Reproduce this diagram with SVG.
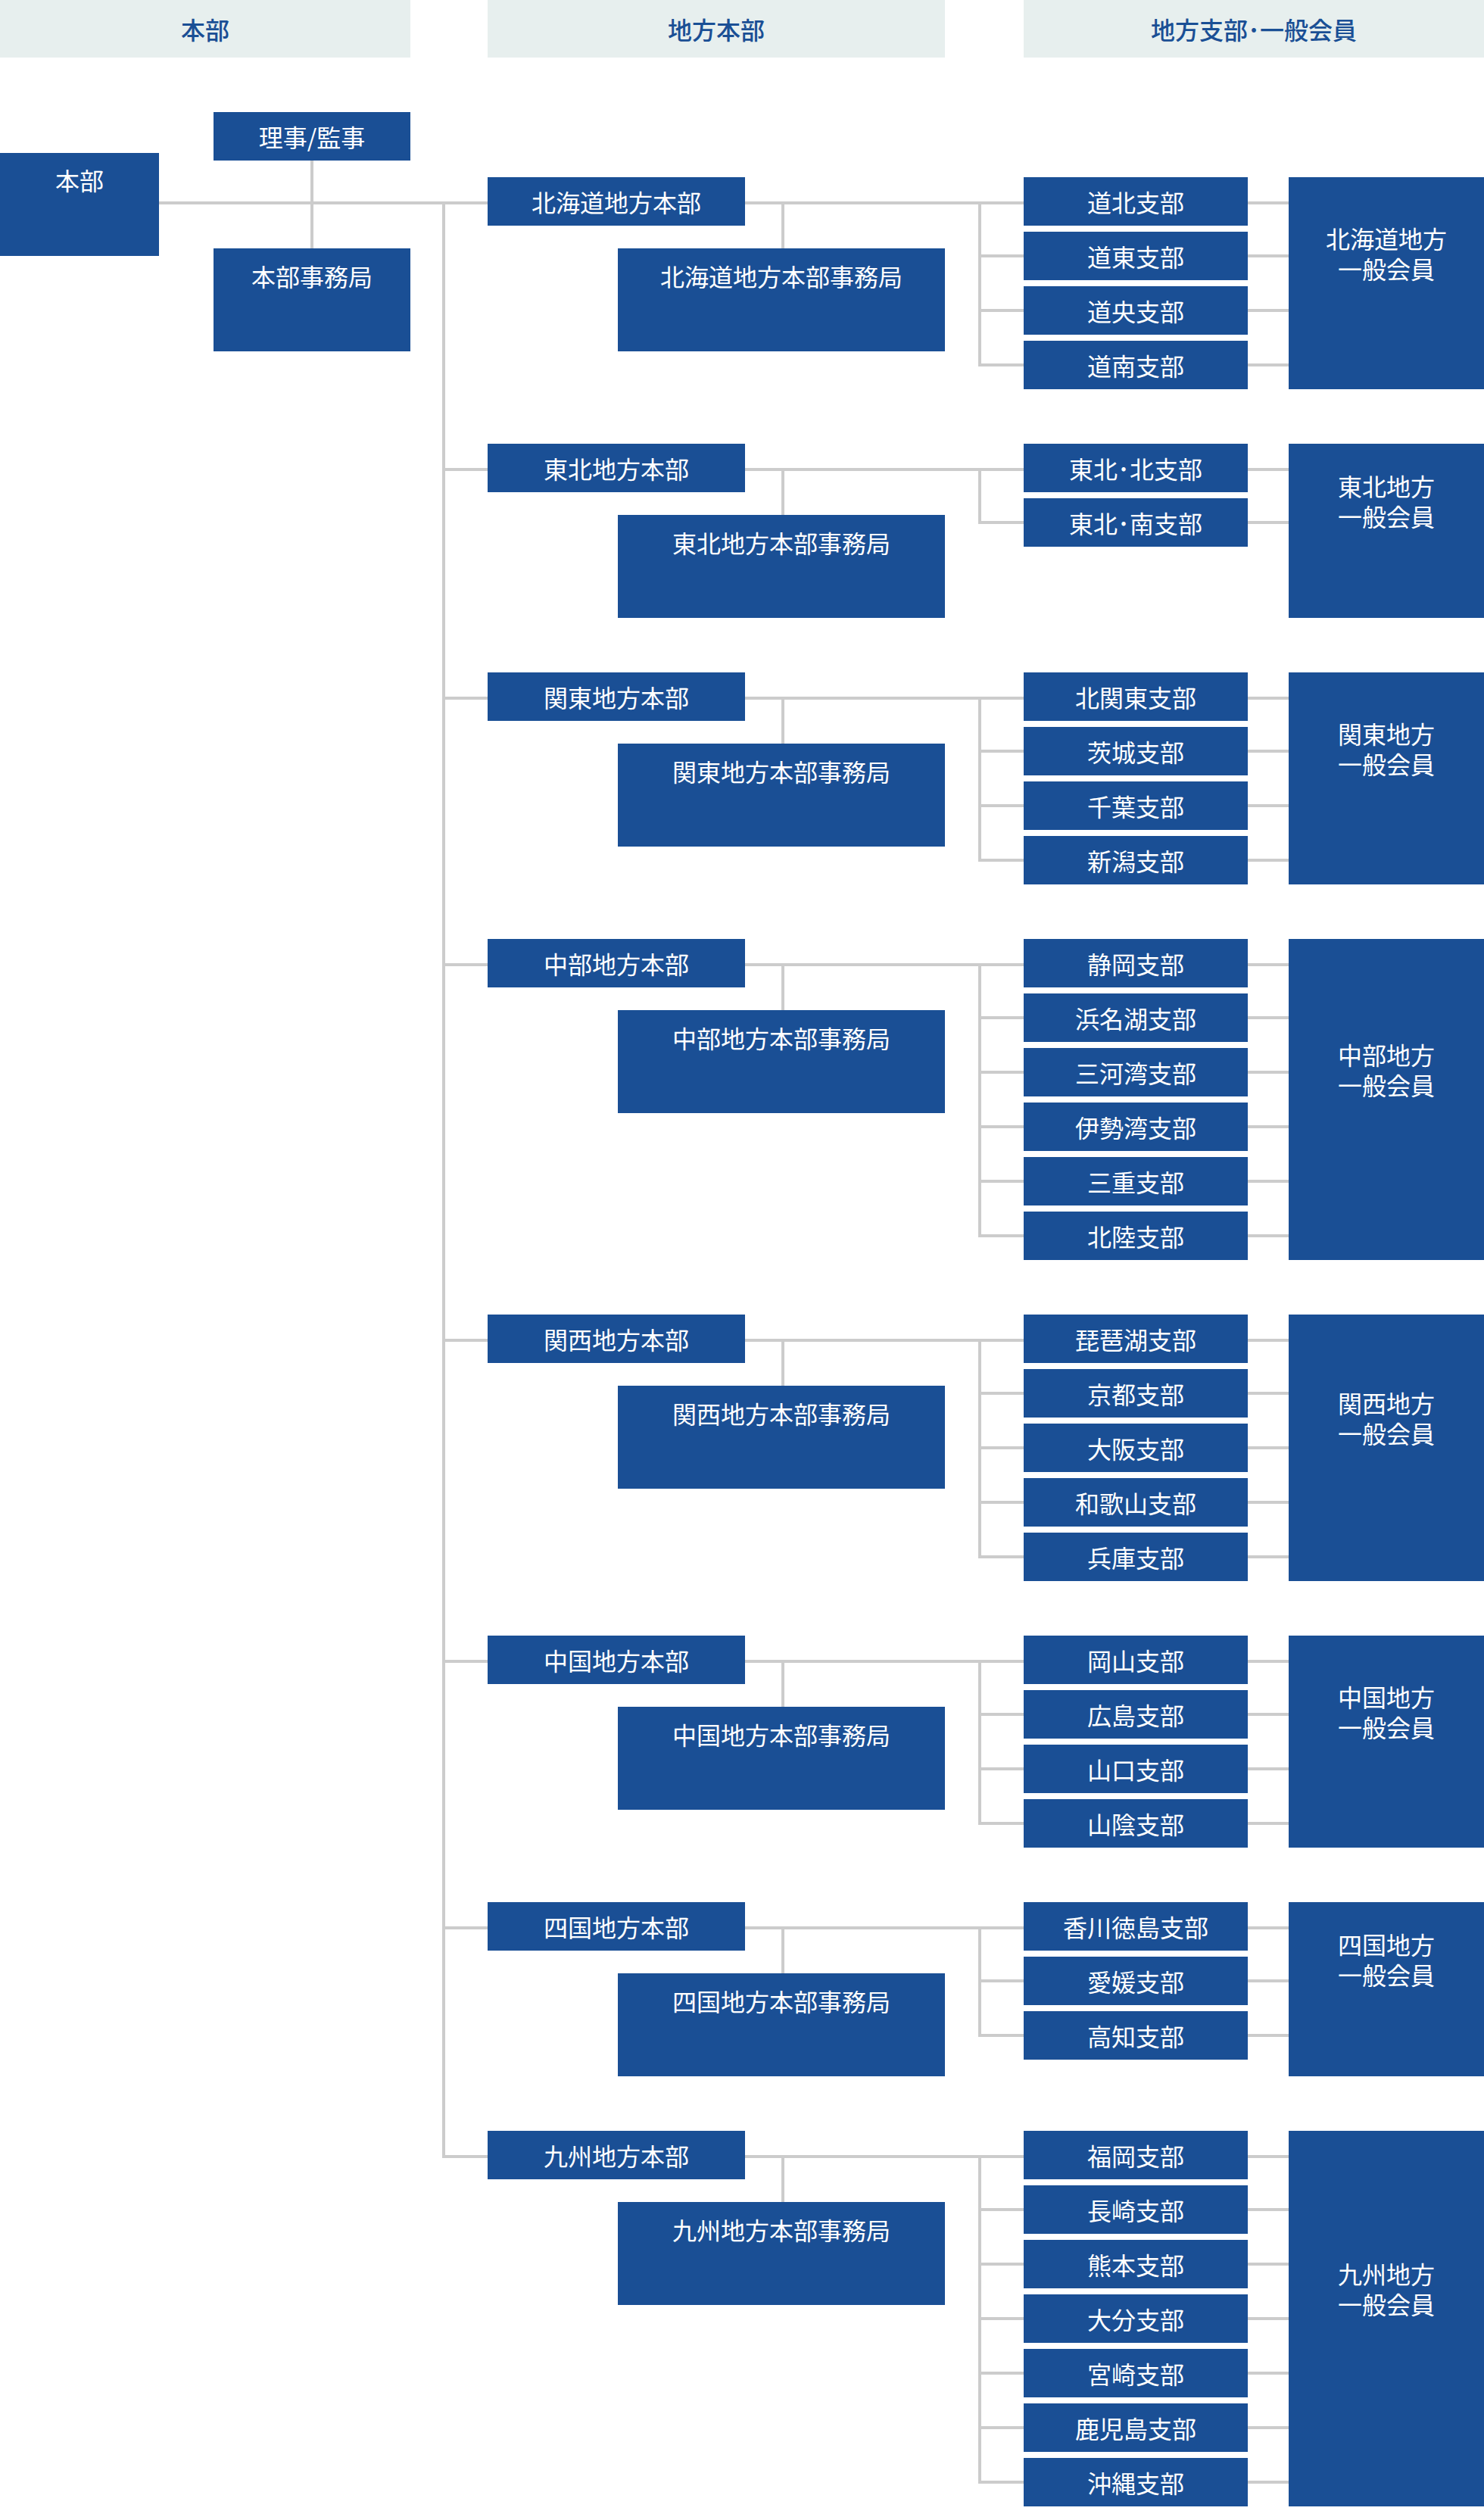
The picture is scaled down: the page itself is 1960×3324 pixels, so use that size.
<svg xmlns="http://www.w3.org/2000/svg" width="1960" height="3324" viewBox="0 0 1960 3324">
<style>
.hd{fill:#e7efee}
.hdt{fill:#1a4f95;font-family:"Noto Sans CJK JP",sans-serif;font-size:32px;font-weight:500;text-anchor:middle;dominant-baseline:central}
.bx{fill:#1a4f95}
.t{fill:#ffffff;font-family:"Noto Sans CJK JP",sans-serif;font-size:32px;text-anchor:middle;dominant-baseline:central}
.ln{fill:none;stroke:#cccccc;stroke-width:4;stroke-linecap:butt;stroke-linejoin:miter}
</style>
<rect width="1960" height="3324" fill="#ffffff"/>
<g id="headers">
<rect class="hd" x="0" y="0" width="542" height="76"/>
<text class="hdt" x="271" y="38">本部</text>
<rect class="hd" x="644" y="0" width="604" height="76"/>
<text class="hdt" x="946" y="38">地方本部</text>
<rect class="hd" x="1352" y="0" width="608" height="76"/>
<text class="hdt" x="1656" y="38">地方支部･一般会員</text>
</g>
<g id="connectors">
<path class="ln" d="M210 268H644"/>
<path class="ln" d="M412 212V328"/>
<path class="ln" d="M586 268V2848H644"/>
<path class="ln" d="M586 620H644M586 922H644M586 1274H644M586 1770H644M586 2194H644M586 2546H644"/>
<path class="ln" d="M984 268H1352M1034 268V328M1294 268V482H1352M1294 338H1352M1294 410H1352M1648 268H1702M1648 338H1702M1648 410H1702M1648 482H1702"/>
<path class="ln" d="M984 620H1352M1034 620V680M1294 620V690H1352M1648 620H1702M1648 690H1702"/>
<path class="ln" d="M984 922H1352M1034 922V982M1294 922V1136H1352M1294 992H1352M1294 1064H1352M1648 922H1702M1648 992H1702M1648 1064H1702M1648 1136H1702"/>
<path class="ln" d="M984 1274H1352M1034 1274V1334M1294 1274V1632H1352M1294 1344H1352M1294 1416H1352M1294 1488H1352M1294 1560H1352M1648 1274H1702M1648 1344H1702M1648 1416H1702M1648 1488H1702M1648 1560H1702M1648 1632H1702"/>
<path class="ln" d="M984 1770H1352M1034 1770V1830M1294 1770V2056H1352M1294 1840H1352M1294 1912H1352M1294 1984H1352M1648 1770H1702M1648 1840H1702M1648 1912H1702M1648 1984H1702M1648 2056H1702"/>
<path class="ln" d="M984 2194H1352M1034 2194V2254M1294 2194V2408H1352M1294 2264H1352M1294 2336H1352M1648 2194H1702M1648 2264H1702M1648 2336H1702M1648 2408H1702"/>
<path class="ln" d="M984 2546H1352M1034 2546V2606M1294 2546V2688H1352M1294 2616H1352M1648 2546H1702M1648 2616H1702M1648 2688H1702"/>
<path class="ln" d="M984 2848H1352M1034 2848V2908M1294 2848V3278H1352M1294 2918H1352M1294 2990H1352M1294 3062H1352M1294 3134H1352M1294 3206H1352M1648 2848H1702M1648 2918H1702M1648 2990H1702M1648 3062H1702M1648 3134H1702M1648 3206H1702M1648 3278H1702"/>
</g>
<g id="honbu"><rect class="bx" x="0" y="202" width="210" height="136"/><text class="t" x="105" y="237">本部</text></g>
<g id="riji"><rect class="bx" x="282" y="148" width="260" height="64"/><text class="t" x="412" y="180">理事/監事</text></g>
<g id="honbu-office"><rect class="bx" x="282" y="328" width="260" height="136"/><text class="t" x="412" y="364">本部事務局</text></g>

<g id="hokkaido-hq"><rect class="bx" x="644" y="234" width="340" height="64"/><text class="t" x="814" y="266">北海道地方本部</text></g>
<g id="hokkaido-office"><rect class="bx" x="816" y="328" width="432" height="136"/><text class="t" x="1032" y="364">北海道地方本部事務局</text></g>
<g id="dohoku"><rect class="bx" x="1352" y="234" width="296" height="64"/><text class="t" x="1500" y="266">道北支部</text></g>
<g id="doto"><rect class="bx" x="1352" y="306" width="296" height="64"/><text class="t" x="1500" y="338">道東支部</text></g>
<g id="doo"><rect class="bx" x="1352" y="378" width="296" height="64"/><text class="t" x="1500" y="410">道央支部</text></g>
<g id="donan"><rect class="bx" x="1352" y="450" width="296" height="64"/><text class="t" x="1500" y="482">道南支部</text></g>
<g id="hokkaido-members"><rect class="bx" x="1702" y="234" width="258" height="280"/><text class="t" x="1831" y="314">北海道地方</text><text class="t" x="1831" y="354">一般会員</text></g>

<g id="tohoku-hq"><rect class="bx" x="644" y="586" width="340" height="64"/><text class="t" x="814" y="618">東北地方本部</text></g>
<g id="tohoku-office"><rect class="bx" x="816" y="680" width="432" height="136"/><text class="t" x="1032" y="716">東北地方本部事務局</text></g>
<g id="tohoku-kita"><rect class="bx" x="1352" y="586" width="296" height="64"/><text class="t" x="1500" y="618">東北･北支部</text></g>
<g id="tohoku-minami"><rect class="bx" x="1352" y="658" width="296" height="64"/><text class="t" x="1500" y="690">東北･南支部</text></g>
<g id="tohoku-members"><rect class="bx" x="1702" y="586" width="258" height="230"/><text class="t" x="1831" y="641">東北地方</text><text class="t" x="1831" y="681">一般会員</text></g>

<g id="kanto-hq"><rect class="bx" x="644" y="888" width="340" height="64"/><text class="t" x="814" y="920">関東地方本部</text></g>
<g id="kanto-office"><rect class="bx" x="816" y="982" width="432" height="136"/><text class="t" x="1032" y="1018">関東地方本部事務局</text></g>
<g id="kitakanto"><rect class="bx" x="1352" y="888" width="296" height="64"/><text class="t" x="1500" y="920">北関東支部</text></g>
<g id="ibaraki"><rect class="bx" x="1352" y="960" width="296" height="64"/><text class="t" x="1500" y="992">茨城支部</text></g>
<g id="chiba"><rect class="bx" x="1352" y="1032" width="296" height="64"/><text class="t" x="1500" y="1064">千葉支部</text></g>
<g id="niigata"><rect class="bx" x="1352" y="1104" width="296" height="64"/><text class="t" x="1500" y="1136">新潟支部</text></g>
<g id="kanto-members"><rect class="bx" x="1702" y="888" width="258" height="280"/><text class="t" x="1831" y="968">関東地方</text><text class="t" x="1831" y="1008">一般会員</text></g>

<g id="chubu-hq"><rect class="bx" x="644" y="1240" width="340" height="64"/><text class="t" x="814" y="1272">中部地方本部</text></g>
<g id="chubu-office"><rect class="bx" x="816" y="1334" width="432" height="136"/><text class="t" x="1032" y="1370">中部地方本部事務局</text></g>
<g id="shizuoka"><rect class="bx" x="1352" y="1240" width="296" height="64"/><text class="t" x="1500" y="1272">静岡支部</text></g>
<g id="hamanako"><rect class="bx" x="1352" y="1312" width="296" height="64"/><text class="t" x="1500" y="1344">浜名湖支部</text></g>
<g id="mikawawan"><rect class="bx" x="1352" y="1384" width="296" height="64"/><text class="t" x="1500" y="1416">三河湾支部</text></g>
<g id="isewan"><rect class="bx" x="1352" y="1456" width="296" height="64"/><text class="t" x="1500" y="1488">伊勢湾支部</text></g>
<g id="mie"><rect class="bx" x="1352" y="1528" width="296" height="64"/><text class="t" x="1500" y="1560">三重支部</text></g>
<g id="hokuriku"><rect class="bx" x="1352" y="1600" width="296" height="64"/><text class="t" x="1500" y="1632">北陸支部</text></g>
<g id="chubu-members"><rect class="bx" x="1702" y="1240" width="258" height="424"/><text class="t" x="1831" y="1392">中部地方</text><text class="t" x="1831" y="1432">一般会員</text></g>

<g id="kansai-hq"><rect class="bx" x="644" y="1736" width="340" height="64"/><text class="t" x="814" y="1768">関西地方本部</text></g>
<g id="kansai-office"><rect class="bx" x="816" y="1830" width="432" height="136"/><text class="t" x="1032" y="1866">関西地方本部事務局</text></g>
<g id="biwako"><rect class="bx" x="1352" y="1736" width="296" height="64"/><text class="t" x="1500" y="1768">琵琶湖支部</text></g>
<g id="kyoto"><rect class="bx" x="1352" y="1808" width="296" height="64"/><text class="t" x="1500" y="1840">京都支部</text></g>
<g id="osaka"><rect class="bx" x="1352" y="1880" width="296" height="64"/><text class="t" x="1500" y="1912">大阪支部</text></g>
<g id="wakayama"><rect class="bx" x="1352" y="1952" width="296" height="64"/><text class="t" x="1500" y="1984">和歌山支部</text></g>
<g id="hyogo"><rect class="bx" x="1352" y="2024" width="296" height="64"/><text class="t" x="1500" y="2056">兵庫支部</text></g>
<g id="kansai-members"><rect class="bx" x="1702" y="1736" width="258" height="352"/><text class="t" x="1831" y="1852">関西地方</text><text class="t" x="1831" y="1892">一般会員</text></g>

<g id="chugoku-hq"><rect class="bx" x="644" y="2160" width="340" height="64"/><text class="t" x="814" y="2192">中国地方本部</text></g>
<g id="chugoku-office"><rect class="bx" x="816" y="2254" width="432" height="136"/><text class="t" x="1032" y="2290">中国地方本部事務局</text></g>
<g id="okayama"><rect class="bx" x="1352" y="2160" width="296" height="64"/><text class="t" x="1500" y="2192">岡山支部</text></g>
<g id="hiroshima"><rect class="bx" x="1352" y="2232" width="296" height="64"/><text class="t" x="1500" y="2264">広島支部</text></g>
<g id="yamaguchi"><rect class="bx" x="1352" y="2304" width="296" height="64"/><text class="t" x="1500" y="2336">山口支部</text></g>
<g id="sanin"><rect class="bx" x="1352" y="2376" width="296" height="64"/><text class="t" x="1500" y="2408">山陰支部</text></g>
<g id="chugoku-members"><rect class="bx" x="1702" y="2160" width="258" height="280"/><text class="t" x="1831" y="2240">中国地方</text><text class="t" x="1831" y="2280">一般会員</text></g>

<g id="shikoku-hq"><rect class="bx" x="644" y="2512" width="340" height="64"/><text class="t" x="814" y="2544">四国地方本部</text></g>
<g id="shikoku-office"><rect class="bx" x="816" y="2606" width="432" height="136"/><text class="t" x="1032" y="2642">四国地方本部事務局</text></g>
<g id="kagawa-tokushima"><rect class="bx" x="1352" y="2512" width="296" height="64"/><text class="t" x="1500" y="2544">香川徳島支部</text></g>
<g id="ehime"><rect class="bx" x="1352" y="2584" width="296" height="64"/><text class="t" x="1500" y="2616">愛媛支部</text></g>
<g id="kochi"><rect class="bx" x="1352" y="2656" width="296" height="64"/><text class="t" x="1500" y="2688">高知支部</text></g>
<g id="shikoku-members"><rect class="bx" x="1702" y="2512" width="258" height="230"/><text class="t" x="1831" y="2567">四国地方</text><text class="t" x="1831" y="2607">一般会員</text></g>

<g id="kyushu-hq"><rect class="bx" x="644" y="2814" width="340" height="64"/><text class="t" x="814" y="2846">九州地方本部</text></g>
<g id="kyushu-office"><rect class="bx" x="816" y="2908" width="432" height="136"/><text class="t" x="1032" y="2944">九州地方本部事務局</text></g>
<g id="fukuoka"><rect class="bx" x="1352" y="2814" width="296" height="64"/><text class="t" x="1500" y="2846">福岡支部</text></g>
<g id="nagasaki"><rect class="bx" x="1352" y="2886" width="296" height="64"/><text class="t" x="1500" y="2918">長崎支部</text></g>
<g id="kumamoto"><rect class="bx" x="1352" y="2958" width="296" height="64"/><text class="t" x="1500" y="2990">熊本支部</text></g>
<g id="oita"><rect class="bx" x="1352" y="3030" width="296" height="64"/><text class="t" x="1500" y="3062">大分支部</text></g>
<g id="miyazaki"><rect class="bx" x="1352" y="3102" width="296" height="64"/><text class="t" x="1500" y="3134">宮崎支部</text></g>
<g id="kagoshima"><rect class="bx" x="1352" y="3174" width="296" height="64"/><text class="t" x="1500" y="3206">鹿児島支部</text></g>
<g id="okinawa"><rect class="bx" x="1352" y="3246" width="296" height="64"/><text class="t" x="1500" y="3278">沖縄支部</text></g>
<g id="kyushu-members"><rect class="bx" x="1702" y="2814" width="258" height="496"/><text class="t" x="1831" y="3002">九州地方</text><text class="t" x="1831" y="3042">一般会員</text></g>
</svg>
